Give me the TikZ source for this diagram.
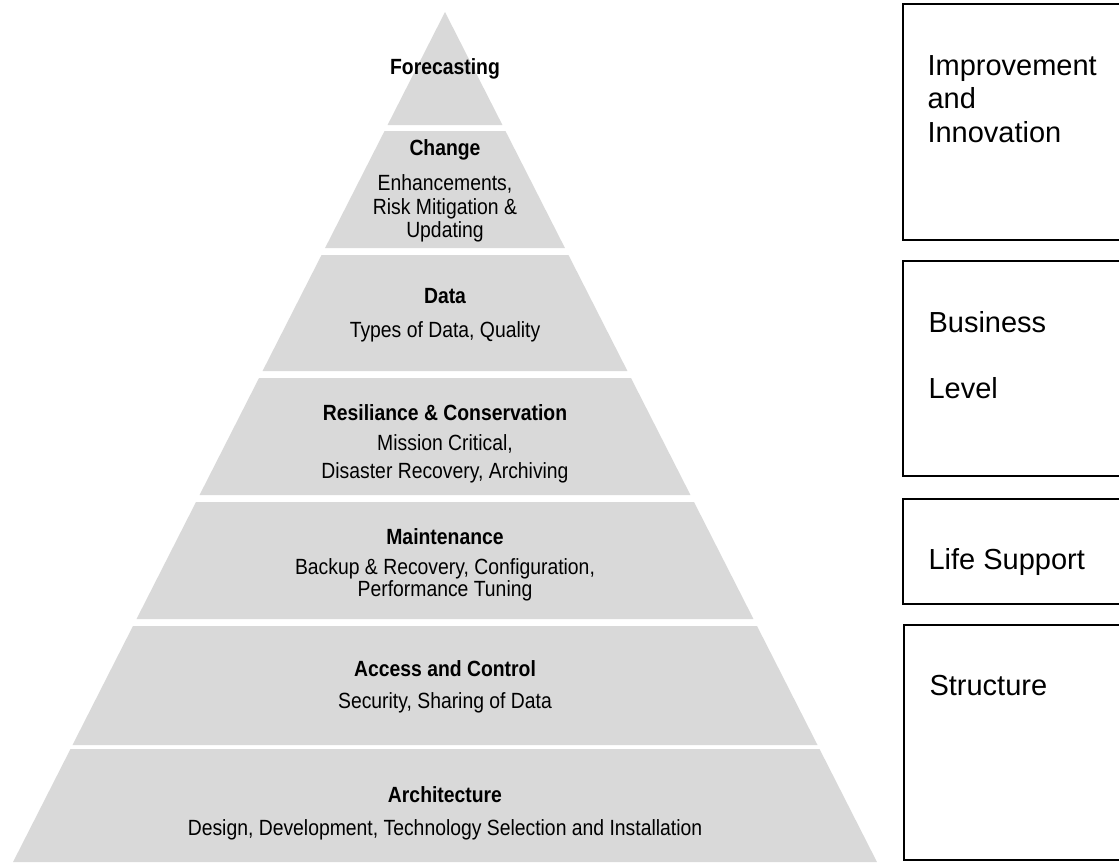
\documentclass[tikz,border=0pt]{standalone}
\usepackage{fontspec}
\setmainfont{Liberation Sans}
\newfontfamily\narrowfont[FakeStretch=0.88]{Liberation Sans}
\definecolor{layergray}{RGB}{217,217,217}

\tikzset{
  layer/.style={fill=layergray},
  title/.style={anchor=base, font=\narrowfont\bfseries\fontsize{22}{24}\selectfont},
  desc/.style={anchor=base, font=\narrowfont\fontsize{22}{24}\selectfont},
  sidebox/.style={draw, line width=1.5pt},
  sidetext/.style={anchor=base west, font=\fontsize{29}{33}\selectfont},
}

\begin{document}
\begin{tikzpicture}[x=1pt, y=-1pt]
\useasboundingbox (0,0) rectangle (1119,863);
\clip (0,0) rectangle (1119,863);

% 金字塔各层 (上沿/下沿)
\foreach \ytop/\ybot in {12/125, 131/248, 255/371, 378/495, 502/619, 626/745, 749/862} {
  \fill[layer] ({445-0.5082*(\ytop-12)},\ytop) -- ({445+0.5082*(\ytop-12)},\ytop)
    -- ({445+0.5082*(\ybot-12)},\ybot) -- ({445-0.5082*(\ybot-12)},\ybot) -- cycle;
}

% 各层文字
\node[title] (forecast) at (445,74) {Forecasting};

\node[title] (change) at (445,155) {Change};
\node[desc] (change1) at (445,190) {Enhancements,};
\node[desc] (change2) at (445,214) {Risk Mitigation \&};
\node[desc] (change3) at (445,237) {Updating};

\node[title] (data) at (445,303) {Data};
\node[desc] (data1) at (445,337) {Types of Data, Quality};

\node[title] (resil) at (445,420) {Resiliance \& Conservation};
\node[desc] (resil1) at (445,450) {Mission Critical,};
\node[desc] (resil2) at (445,478) {Disaster Recovery, Archiving};

\node[title] (maint) at (445,544) {Maintenance};
\node[desc] (maint1) at (445,574) {Backup \& Recovery, Configuration,};
\node[desc] (maint2) at (445,596) {Performance Tuning};

\node[title] (access) at (445,676) {Access and Control};
\node[desc] (access1) at (445,708) {Security, Sharing of Data};

\node[title] (arch) at (445,802) {Architecture};
\node[desc] (arch1) at (445,835) {Design, Development, Technology Selection and Installation};

% 右侧方框
\draw[sidebox] (903,4) rectangle (1130,240);
\node[sidetext] (improve) at (924,75) {Improvement};
\node[sidetext] (and) at (924,108) {and};
\node[sidetext] (innov) at (924,142) {Innovation};

\draw[sidebox] (903,261) rectangle (1130,476);
\node[sidetext] (business) at (925,332) {Business};
\node[sidetext] (level) at (925,398) {Level};

\draw[sidebox] (903,499) rectangle (1130,604);
\node[sidetext] (life) at (925,569) {Life Support};

\draw[sidebox] (904,625) rectangle (1130,860);
\node[sidetext] (struct) at (926,695) {Structure};
\end{tikzpicture}
\end{document}
